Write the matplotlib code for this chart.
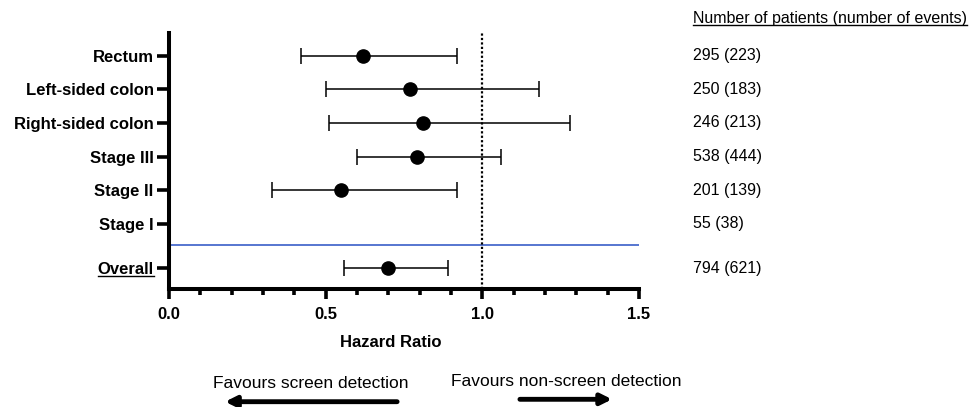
import numpy as np
import matplotlib
matplotlib.use("Agg")
import matplotlib.pyplot as plt
from matplotlib.lines import Line2D
from matplotlib.transforms import blended_transform_factory

plt.rcParams['font.family'] = ['Liberation Sans', 'DejaVu Sans']

# data
labels = ['Rectum', 'Left-sided colon', 'Right-sided colon', 'Stage III',
          'Stage II', 'Stage I', 'Overall']
hr = [0.62, 0.77, 0.81, 0.79, 0.55, np.nan, 0.70]
ci_low = [0.42, 0.50, 0.51, 0.60, 0.33, np.nan, 0.56]
ci_high = [0.92, 1.18, 1.28, 1.06, 0.92, np.nan, 0.89]
counts = ['295 (223)', '250 (183)', '246 (213)', '538 (444)',
          '201 (139)', '55 (38)', '794 (621)']
header = 'Number of patients (number of events)'

# row positions (Overall sits a bit lower, below the separator)
ypos = [7, 6, 5, 4, 3, 2, 0.69]
sep_y = 1.38

fig = plt.figure(figsize=(9.71, 4.07), dpi=100)
ax = fig.add_axes([169 / 971, 117.7 / 407, 470 / 971, 256.3 / 407])

hr_a = np.array(hr)
err = np.array([hr_a - np.array(ci_low), np.array(ci_high) - hr_a])
ax.errorbar(hr, ypos, xerr=err, fmt='o', color='black', ms=9.5,
            elinewidth=1.1, capsize=5.5, capthick=1.1, zorder=3)

ax.axvline(1.0, color='black', ls=(0, (1, 1)), lw=1.6, zorder=2)
ax.axhline(sep_y, color='#3a5fc8', lw=1.2, zorder=1)

ax.set_xlim(0, 1.5)
ax.set_ylim(0.06, 7.67)
ax.set_xticks([0.0, 0.5, 1.0, 1.5])
ax.set_xticks(np.arange(0, 1.51, 0.1), minor=True)
ax.set_xticklabels(['0.0', '0.5', '1.0', '1.5'], fontweight='bold', fontsize=12)
ax.set_yticks(ypos)
ax.set_yticklabels(labels, fontweight='bold', fontsize=12)

for s in ['top', 'right']:
    ax.spines[s].set_visible(False)
for s in ['left', 'bottom']:
    ax.spines[s].set_linewidth(2.9)
ax.tick_params(axis='y', length=8.5, width=2.6, pad=2.5)
ax.tick_params(axis='x', which='major', length=7, width=2.6, pad=5.5)
ax.tick_params(axis='x', which='minor', length=4.5, width=2.6)

ax.set_xlabel('Hazard Ratio', fontweight='bold', fontsize=12)
ax.xaxis.set_label_coords((391 - 169) / 470, -0.177)

# patient counts column
trans = blended_transform_factory(fig.transFigure, ax.transData)
for y, c in zip(ypos, counts):
    ax.text(693 / 971, y, c, transform=trans, fontsize=11.5, va='center',
            ha='left', clip_on=False)
hdr = fig.text(693 / 971, 1 - 18 / 407, header, fontsize=11.5, va='center', ha='left')

# favours arrows
ax.annotate('', xy=(0.179, 1 - 401.7 / 407), xytext=(0.728, 1 - 401.7 / 407),
            xycoords=('data', 'figure fraction'), annotation_clip=False,
            arrowprops=dict(arrowstyle='-|>', lw=3.5, mutation_scale=16, color='black',
                            shrinkA=0, shrinkB=0))
ax.annotate('', xy=(1.414, 1 - 399.3 / 407), xytext=(1.12, 1 - 399.3 / 407),
            xycoords=('data', 'figure fraction'), annotation_clip=False,
            arrowprops=dict(arrowstyle='-|>', lw=3.5, mutation_scale=16, color='black',
                            shrinkA=0, shrinkB=0))
fig.text(311 / 971, 1 - 383 / 407, 'Favours screen detection', fontsize=12.5,
         ha='center', va='center')
fig.text(566 / 971, 1 - 381 / 407, 'Favours non-screen detection', fontsize=12.5,
         ha='center', va='center')

# underline header and "Overall"
fig.canvas.draw()
renderer = fig.canvas.get_renderer()
inv = fig.transFigure.inverted()


def underline(txt, offset=1.0):
    bb = txt.get_window_extent(renderer)
    (x0, y0), (x1, _) = inv.transform([[bb.x0, bb.y0 + offset], [bb.x1, bb.y0]])
    fig.add_artist(Line2D([x0, x1], [y0, y0], color='black', lw=1.0,
                          transform=fig.transFigure))


underline(hdr)
underline(ax.get_yticklabels()[-1])

fig.savefig('out.png', dpi=100)
